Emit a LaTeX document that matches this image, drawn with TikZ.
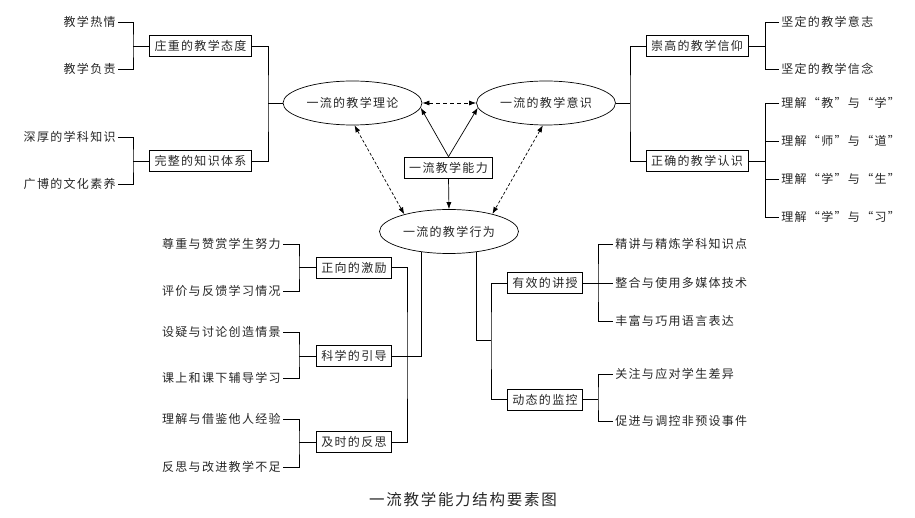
\documentclass[tikz,border=0pt]{standalone}
\usepackage{fontspec}
\setmainfont{Noto Sans CJK SC}[LetterSpace=11]
\usetikzlibrary{arrows, arrows.meta, shapes, positioning}

\begin{document}
\begin{tikzpicture}[x=1pt,y=-1pt,>={Latex[length=7pt,width=5pt]},line width=0.7pt,
  font=\fontsize{12}{14}\selectfont,
  hoja/.style={inner sep=2pt,text=black!85},
  caja/.style={draw,inner xsep=5pt,inner ysep=2pt,minimum height=21pt,text=black!85},
  elipse/.style={ellipse,draw,minimum width=139pt,minimum height=44pt,inner sep=0pt,text=black!85},
  punteada/.style={<->,dash pattern=on 3pt off 2pt}]
	\useasboundingbox (0,0) rectangle (915,518);
	
	% Nodos centrales
	\node[elipse] (teo) at (352.5,103) {一流的教学理论};
	\node[elipse] (con) at (546,103) {一流的教学意识};
	\node[elipse] (act) at (449,231.5) {一流的教学行为};
	\node[caja] (cap) at (448.5,167.5) {一流教学能力};
	
	% Rama izquierda superior
	\node[caja] (att) at (200.5,46) {庄重的教学态度};
	\node[caja] (kno) at (200.5,161) {完整的知识体系};
	\node[hoja,anchor=east] (lt1) at (118,22) {教学热情};
	\node[hoja,anchor=east] (lt2) at (118,69) {教学负责};
	\node[hoja,anchor=east] (lt3) at (118,137) {深厚的学科知识};
	\node[hoja,anchor=east] (lt4) at (118,184) {广博的文化素养};
	
	% Rama derecha superior
	\node[caja] (bel) at (697,46) {崇高的教学信仰};
	\node[caja] (cor) at (697,161) {正确的教学认识};
	\node[hoja,anchor=west] (rt1) at (779,22) {坚定的教学意志};
	\node[hoja,anchor=west] (rt2) at (779,69) {坚定的教学信念};
	\node[hoja,anchor=west] (rt3) at (779,103) {理解“教”与“学”};
	\node[hoja,anchor=west] (rt4) at (779,141) {理解“师”与“道”};
	\node[hoja,anchor=west] (rt5) at (779,179) {理解“学”与“生”};
	\node[hoja,anchor=west] (rt6) at (779,217) {理解“学”与“习”};
	
	% Rama inferior izquierda
	\node[caja] (pos) at (354,267.5) {正向的激励};
	\node[caja] (sci) at (354,356) {科学的引导};
	\node[caja] (ref) at (354,442) {及时的反思};
	\node[hoja,anchor=east] (bl1) at (283,244) {尊重与赞赏学生努力};
	\node[hoja,anchor=east] (bl2) at (283,291) {评价与反馈学习情况};
	\node[hoja,anchor=east] (bl3) at (283,332) {设疑与讨论创造情景};
	\node[hoja,anchor=east] (bl4) at (283,378) {课上和课下辅导学习};
	\node[hoja,anchor=east] (bl5) at (283,419) {理解与借鉴他人经验};
	\node[hoja,anchor=east] (bl6) at (283,467) {反思与改进教学不足};
	
	% Rama inferior derecha
	\node[caja] (eff) at (545,283) {有效的讲授};
	\node[caja] (mon) at (545,399.5) {动态的监控};
	\node[hoja,anchor=west] (br1) at (613,244) {精讲与精炼学科知识点};
	\node[hoja,anchor=west] (br2) at (613,283) {整合与使用多媒体技术};
	\node[hoja,anchor=west] (br3) at (613,321) {丰富与巧用语言表达};
	\node[hoja,anchor=west] (br4) at (613,374) {关注与应对学生差异};
	\node[hoja,anchor=west] (br5) at (613,421) {促进与调控非预设事件};
	
	\node[text=black!85,font=\fontsize{15.5}{18}\selectfont] (tit) at (463,500) {一流教学能力结构要素图};
	
	% Puntos de union
	\coordinate (jA) at (133,46);
	\coordinate (jB) at (133,161);
	\coordinate (jT) at (268,103);
	\coordinate (jR) at (630,103);
	\coordinate (jH) at (765,46);
	\coordinate (jG) at (765,161);
	\coordinate (jL1) at (299,267.5);
	\coordinate (jL2) at (299,356);
	\coordinate (jL3) at (299,442);
	\coordinate (jD) at (407,356);
	\coordinate (jE) at (491,340);
	\coordinate (jF) at (598,283);
	\coordinate (jK) at (598,399.5);
	
	% Flechas entre los nodos centrales
	\path[->]
	(cap.north) edge (teo.-4)
	(cap.north) edge (con.-176)
	(cap.south) edge (act.north);
	\path[<->,dash pattern=on 4pt off 3pt]
	(teo.east) edge (con.west);
	\path[punteada]
	(teo.-85) edge (act.159)
	(con.-98) edge (act.22);
	
	% Conexiones de las ramas
	\draw (lt1.east) -| (jA) |- (lt2.east);
	\draw (jA) -- (att.west);
	\draw (lt3.east) -| (jB) |- (lt4.east);
	\draw (jB) -- (kno.west);
	\draw (att.east) -| (jT) |- (kno.east);
	\draw (jT) -- (teo.west);
	
	\draw (con.east) -- (jR);
	\draw (bel.west) -| (jR) |- (cor.west);
	\draw (rt1.west) -| (jH) |- (rt2.west);
	\draw (bel.east) -- (jH);
	\draw (rt3.west) -| (jG) |- (rt6.west);
	\draw (rt4.west) -| (jG);
	\draw (rt5.west) -| (jG);
	\draw (cor.east) -- (jG);
	
	\draw (bl1.east) -| (jL1) |- (bl2.east);
	\draw (jL1) -- (pos.west);
	\draw (bl3.east) -| (jL2) |- (bl4.east);
	\draw (jL2) -- (sci.west);
	\draw (bl5.east) -| (jL3) |- (bl6.east);
	\draw (jL3) -- (ref.west);
	\draw (sci.east) -| (act.-143);
	\draw (pos.east) -| (jD) |- (ref.east);
	
	\draw (act.-37) |- (jE);
	\draw (eff.west) -| (jE) |- (mon.west);
	\draw (br1.west) -| (jF) |- (br3.west);
	\draw (eff.east) -- (br2.west);
	\draw (br4.west) -| (jK) |- (br5.west);
	\draw (mon.east) -- (jK);
\end{tikzpicture}
\end{document}
